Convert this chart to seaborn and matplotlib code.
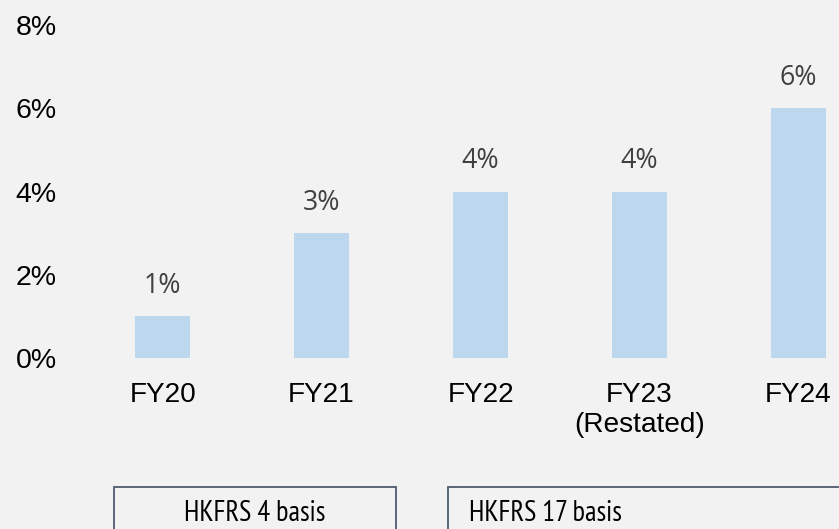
import matplotlib
matplotlib.use("Agg")
import matplotlib.pyplot as plt
from matplotlib.patches import Rectangle
import seaborn as sns
import pandas as pd

# data
years = ["FY20", "FY21", "FY22", "FY23\n(Restated)", "FY24"]
values = [1, 3, 4, 4, 6]
y_ticks = [0, 2, 4, 6, 8]
basis_labels = ["HKFRS 4 basis", "HKFRS 17 basis"]

bg = "#F2F2F2"
bar_color = "#BDD7EE"

sns.set_style("white")
plt.rcParams["font.family"] = ["Liberation Sans", "DejaVu Sans"]

W, H = 839, 529
fig = plt.figure(figsize=(W / 100, H / 100), dpi=100, facecolor=bg)

# axes placed in pixel terms (right end runs past the canvas like the reference)
left, right = 83.2, 83.2 + 5 * 158.95
top, bottom = 25, 358
ax = fig.add_axes([left / W, (H - bottom) / H, (right - left) / W, (bottom - top) / H])
ax.set_facecolor(bg)

df = pd.DataFrame({"year": years, "value": values})
sns.barplot(data=df, x="year", y="value", color=bar_color, saturation=1,
            width=0.348, linewidth=0, ax=ax)

ax.set_xlim(-0.5, 4.5)
ax.set_ylim(0, 8)
ax.set_yticks(y_ticks)
ax.set_yticklabels([f"{t}%" for t in y_ticks])
ax.set_xlabel("")
ax.set_ylabel("")
ax.tick_params(axis="x", length=0, pad=17, labelsize=20.2, colors="black")
ax.tick_params(axis="y", length=0, pad=19, labelsize=20.5, colors="black")
for s in ax.spines.values():
    s.set_visible(False)

# value labels above bars
for bar, v in zip(ax.patches, values):
    ax.annotate(f"{v}%", (bar.get_x() + bar.get_width() / 2, bar.get_height()),
                xytext=(0, 21.6), textcoords="offset points",
                ha="center", va="center", fontsize=19.3, color="#404040",
                family=["Open Sans", "DejaVu Sans"])

# basis boxes at the bottom (narrow font, sized to the reference width)
narrow = ["PT Sans Narrow", "DejaVu Sans"]
renderer = fig.canvas.get_renderer()
probe = fig.text(0, 0, basis_labels[0], fontsize=20, family=narrow)
w20 = probe.get_window_extent(renderer).width
probe.remove()
fs = 20 * 141 / w20

boxes = [(114, 396), (448, 900)]
text_x = [255, 545.6]
for (x0, x1), tx, lab in zip(boxes, text_x, basis_labels):
    fig.add_artist(Rectangle((x0 / W, -0.05), (x1 - x0) / W, (H - 487) / H + 0.05,
                             transform=fig.transFigure, facecolor="none",
                             edgecolor="#4F5B6E", linewidth=1.3))
    fig.text(tx / W, 2 / H, lab, ha="center", va="bottom",
             fontsize=fs, color="black", family=narrow)

fig.savefig("out.png", dpi=100, facecolor=bg)
